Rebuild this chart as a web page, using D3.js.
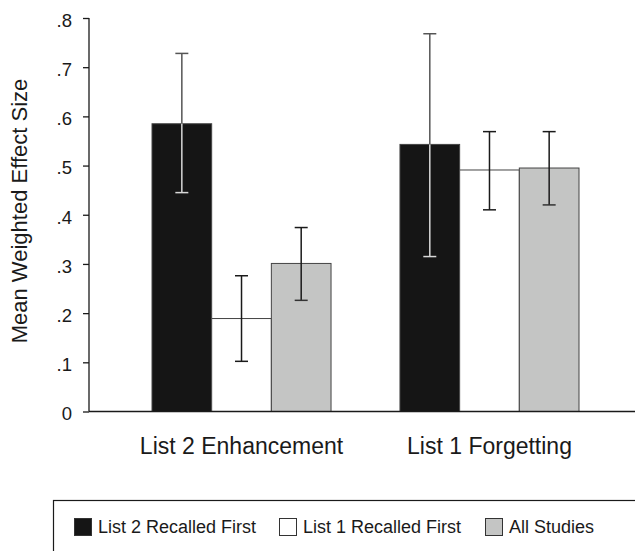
<!DOCTYPE html>
<html>
<head>
<meta charset="utf-8">
<script src="https://cdn.jsdelivr.net/npm/d3@7"></script>
<style>
  body { margin: 0; background: #fff; }
  .chart text { font-family: "Liberation Sans", Arial, sans-serif; fill: #1a1a1a; }
</style>
</head>
<body>
<div class="chart" id="chart"></div>
<script>
// values
const categories = ["List 2 Enhancement", "List 1 Forgetting"];
const seriesNames = ["List 2 Recalled First", "List 1 Recalled First", "All Studies"];
const list2First = [0.585, 0.543];
const list2FirstLow = [0.445, 0.315];
const list2FirstHigh = [0.728, 0.768];
const list1First = [0.189, 0.491];
const list1FirstLow = [0.102, 0.410];
const list1FirstHigh = [0.276, 0.569];
const allStudies = [0.301, 0.495];
const allStudiesLow = [0.226, 0.420];
const allStudiesHigh = [0.374, 0.569];
const yTicks = [0, 0.1, 0.2, 0.3, 0.4, 0.5, 0.6, 0.7, 0.8];
const yTickLabels = ["0", ".1", ".2", ".3", ".4", ".5", ".6", ".7", ".8"];

const colors = ["#151515", "#ffffff", "#c4c5c4"];
const whiskerColors = ["#555", "#1a1a1a", "#1a1a1a"];

const width = 635, height = 551;
const svg = d3.select("#chart").append("svg")
  .attr("width", width)
  .attr("height", height);

const axisX = 89;
const y = d3.scaleLinear().domain([0, 0.8]).range([411.5, 18]);

const x0 = d3.scaleBand().domain(categories).range([152, 579])
  .paddingInner(0.278).paddingOuter(0);
const x1 = d3.scaleBand().domain(seriesNames).range([0, x0.bandwidth()]);

// build rows for the bars
const seriesVals = [list2First, list1First, allStudies];
const seriesLow = [list2FirstLow, list1FirstLow, allStudiesLow];
const seriesHigh = [list2FirstHigh, list1FirstHigh, allStudiesHigh];
const rows = [];
categories.forEach((c, ci) => {
  seriesNames.forEach((s, si) => {
    rows.push({ cat: c, name: s, si: si, v: seriesVals[si][ci], lo: seriesLow[si][ci], hi: seriesHigh[si][ci] });
  });
});

// bars
svg.append("g").selectAll("rect")
  .data(rows)
  .enter().append("rect")
    .attr("x", d => x0(d.cat) + x1(d.name))
    .attr("y", d => y(d.v))
    .attr("width", x1.bandwidth())
    .attr("height", d => y(0) - y(d.v))
    .attr("fill", d => colors[d.si])
    .attr("stroke", "#444")
    .attr("stroke-width", 1);

// error bars
const capW = 13;
const eb = svg.append("g").selectAll("g")
  .data(rows)
  .enter().append("g")
    .attr("transform", d => "translate(" + (x0(d.cat) + x1(d.name) + x1.bandwidth() / 2) + ",0)");

// part above the bar top (or all of it for light bars)
eb.append("line")
  .attr("x1", 0).attr("x2", 0)
  .attr("y1", d => y(d.hi))
  .attr("y2", d => d.si === 0 ? y(d.v) : y(d.lo))
  .attr("stroke", d => whiskerColors[d.si])
  .attr("stroke-width", 1.5);
eb.append("line")
  .attr("x1", -capW / 2).attr("x2", capW / 2)
  .attr("y1", d => y(d.hi)).attr("y2", d => y(d.hi))
  .attr("stroke", d => whiskerColors[d.si])
  .attr("stroke-width", 1.5);

// inside the black bars the whisker shows light
eb.filter(d => d.si === 0).append("line")
  .attr("x1", 0).attr("x2", 0)
  .attr("y1", d => y(d.v)).attr("y2", d => y(d.lo))
  .attr("stroke", "#d8d8d8")
  .attr("stroke-width", 1.5);
eb.append("line")
  .attr("x1", -capW / 2).attr("x2", capW / 2)
  .attr("y1", d => y(d.lo)).attr("y2", d => y(d.lo))
  .attr("stroke", d => d.si === 0 ? "#d8d8d8" : (d.si === 2 ? "#333" : "#1a1a1a"))
  .attr("stroke-width", 1.5);

// y axis
const yAxis = svg.append("g")
  .attr("transform", "translate(" + axisX + ",0)")
  .call(d3.axisLeft(y).tickValues(yTicks).tickSize(6).tickPadding(11)
    .tickFormat((d, i) => yTickLabels[i]));
yAxis.select(".domain").remove();
yAxis.selectAll(".tick line").attr("stroke", "#1a1a1a").attr("stroke-width", 1.3);
yAxis.selectAll(".tick text")
  .attr("font-size", 18.5)
  .attr("dy", "0.45em")
  .attr("fill", "#1a1a1a");
yAxis.append("line")
  .attr("x1", 0).attr("x2", 0)
  .attr("y1", y(0.8)).attr("y2", y(0))
  .attr("stroke", "#1a1a1a").attr("stroke-width", 1.3);

// baseline
svg.append("line")
  .attr("x1", axisX).attr("x2", width)
  .attr("y1", y(0)).attr("y2", y(0))
  .attr("stroke", "#1a1a1a").attr("stroke-width", 1.5);

// y title
svg.append("text")
  .attr("transform", "translate(27,211) rotate(-90)")
  .attr("text-anchor", "middle")
  .attr("font-size", 22)
  .text("Mean Weighted Effect Size");

// category labels
svg.append("g").selectAll("text")
  .data(categories)
  .enter().append("text")
    .attr("x", d => x0(d) + x0.bandwidth() / 2)
    .attr("y", 454)
    .attr("text-anchor", "middle")
    .attr("font-size", 23)
    .text(d => d);

// legend box
svg.append("rect")
  .attr("x", 53.5).attr("y", 500.5)
  .attr("width", 620).attr("height", 100)
  .attr("fill", "none")
  .attr("stroke", "#1a1a1a").attr("stroke-width", 1.2);

const legendX = [74, 279, 485];
const legend = svg.append("g").selectAll("g")
  .data(seriesNames)
  .enter().append("g")
    .attr("transform", (d, i) => "translate(" + legendX[i] + ",518)");
legend.append("rect")
  .attr("x", 0.5).attr("y", 0.5)
  .attr("width", 17).attr("height", 17)
  .attr("fill", (d, i) => colors[i])
  .attr("stroke", "#333").attr("stroke-width", 1);
legend.append("text")
  .attr("x", 24)
  .attr("y", 15)
  .attr("font-size", 18)
  .text(d => d);
</script>
</body>
</html>
